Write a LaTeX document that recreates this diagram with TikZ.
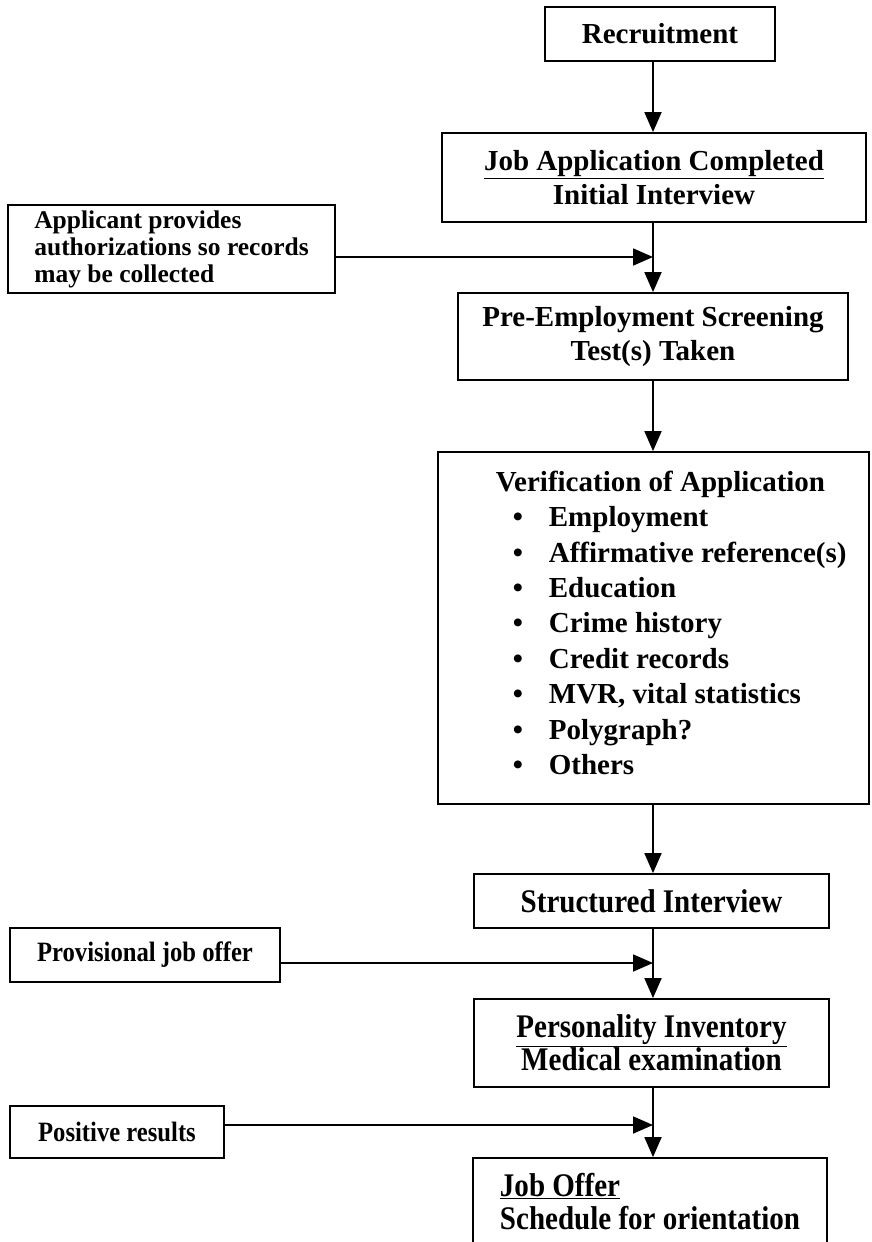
\documentclass[tikz,border=0pt]{standalone}
\usepackage{fontspec}
\setmainfont{Liberation Serif}
\newfontfamily\narrowfont[FakeStretch=0.88]{Liberation Serif}
\usetikzlibrary{arrows.meta}
\begin{document}
\begin{tikzpicture}[x=1pt, y=-1pt, >={Triangle[length=20pt,width=17pt]}, line width=1.8pt,
		box/.style={draw, inner sep=0pt, align=center},
		big/.style={font=\fontsize{29}{34}\selectfont\bfseries},
		side/.style={font=\fontsize{25.5}{27}\selectfont\bfseries, align=left},
		narrow/.style={font=\narrowfont\fontsize{33}{33}\selectfont\bfseries},
		narrowside/.style={font=\narrowfont\fontsize{28}{30}\selectfont\bfseries}]
	\useasboundingbox (0,0) rectangle (871,1242);
	\coordinate (mx) at (653,0);
	\node[box, big, minimum width=230, minimum height=54] (rec) at (660,34) {Recruitment};
	\node[box, big, minimum width=424, minimum height=89] (app) at (654,177.5) {\underline{Job Application Completed}\\Initial Interview};
	\node[box, side, minimum width=327, minimum height=88] (auth) at (171.5,249) {Applicant provides\\authorizations so records\\may be collected};
	\node[box, big, minimum width=390, minimum height=87] (pre) at (653,336.5) {Pre-Employment Screening\\Test(s) Taken};
	\node[box, minimum width=431, minimum height=352] (ver) at (653.5,628) {};
	\node[anchor=north west, inner sep=0pt, align=left, font=\fontsize{29}{35.4}\selectfont\bfseries] (verlist) at (495,470)
		{Verification of Application\\
		\hspace*{17pt}\makebox[36pt][l]{\textbullet}Employment\\
		\hspace*{17pt}\makebox[36pt][l]{\textbullet}Affirmative reference(s)\\
		\hspace*{17pt}\makebox[36pt][l]{\textbullet}Education\\
		\hspace*{17pt}\makebox[36pt][l]{\textbullet}Crime history\\
		\hspace*{17pt}\makebox[36pt][l]{\textbullet}Credit records\\
		\hspace*{17pt}\makebox[36pt][l]{\textbullet}MVR, vital statistics\\
		\hspace*{17pt}\makebox[36pt][l]{\textbullet}Polygraph?\\
		\hspace*{17pt}\makebox[36pt][l]{\textbullet}Others};
	\node[box, narrow, minimum width=355, minimum height=54] (si) at (651.5,901) {Structured Interview};
	\node[box, narrowside, align=left, minimum width=270, minimum height=54] (prov) at (145,955) {Provisional job offer};
	\node[box, narrow, minimum width=355, minimum height=88] (pers) at (651.5,1043) {\underline{Personality Inventory}\\Medical examination};
	\node[box, narrowside, align=left, minimum width=214, minimum height=52] (pos) at (117,1132) {Positive results};
	\node[box, narrow, align=left, minimum width=354, minimum height=88] (offer) at (650,1202) {\underline{Job Offer}\\Schedule for orientation};
	% main flow
	\draw[->] (rec.south -| mx) -- (app.north -| mx);
	\draw[->] (app.south -| mx) -- (pre.north -| mx);
	\draw[->] (pre.south -| mx) -- (ver.north -| mx);
	\draw[->] (ver.south -| mx) -- (si.north -| mx);
	\draw[->] (si.south -| mx) -- (pers.north -| mx);
	\draw[->] (pers.south -| mx) -- (offer.north -| mx);
	% side inputs
	\coordinate (j1) at (653,257); \coordinate (j2) at (653,963); \coordinate (j3) at (653,1125);
	\draw[->] (auth.east |- j1) -- (j1);
	\draw[->] (prov.east |- j2) -- (j2);
	\draw[->] (pos.east |- j3) -- (j3);
\end{tikzpicture}
\end{document}
